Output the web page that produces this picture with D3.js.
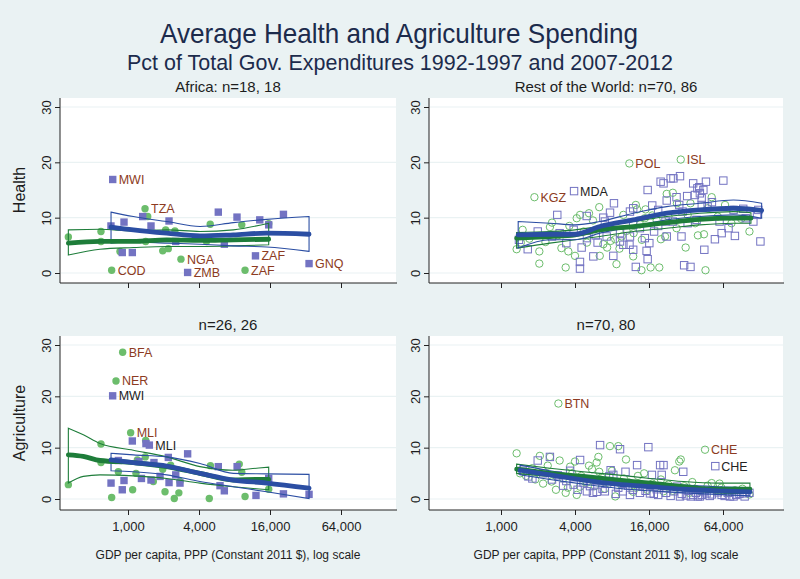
<!DOCTYPE html>
<html><head><meta charset="utf-8">
<script src="https://cdn.jsdelivr.net/npm/d3@7"></script>
<style>
body{margin:0;background:#eaf2f3;}
text{font-family:"Liberation Sans",Arial,sans-serif;}
</style>
</head><body>
<svg id="chart" width="800" height="579"></svg>
<script>
// ---------- DATA (GDP per capita in thousands of 2011 $, value in % of total gov. expenditure) ----------
const xTickValues = [1, 4, 16, 64];
const xTickLabels = ["1,000", "4,000", "16,000", "64,000"];
const yTickValues = [0, 10, 20, 30];
const panelTitles = ["Africa: n=18, 18", "Rest of the World: n=70, 86", "n=26, 26", "n=70, 80"];
const rowTitles = ["Health", "Agriculture"];

// Africa – Health
const afHealthEarly = [[0.312,6.5],[0.59,7.5],[0.59,5.7],[0.727,0.5,"COD"],[0.855,3.9],[1.394,11.6,"TZA"],[1.469,10.2],[1.412,5.7],[1.97,4.0],[2.087,7.8],[2.197,4.4],[2.5,7.6],[2.812,2.5,"NGA"],[4.63,5.7],[4.98,8.8],[9.22,8.7],[9.83,0.5,"ZAF"],[15.6,8.9]];
const afHealthLate = [[0.742,16.9,"MWI"],[0.717,8.5],[0.925,9.2],[0.894,3.7],[1.088,3.7],[1.332,10.2],[1.567,8.5],[2.228,9.4],[2.54,5.7],[3.204,0.1,"ZMB"],[5.83,11.0],[6.56,5.2],[8.4,10.1],[13.1,9.6],[12.05,3.1,"ZAF"],[15.6,8.7],[20.8,10.6],[34.3,1.7,"GNQ"]];
const afHealthEarlyFit = {x:[0.312,0.579,1.11,2.13,4.08,7.82,15.6], fit:[5.4,5.7,5.7,6.0,5.9,6.0,6.1], lo:[3.25,4.3,4.6,4.8,4.8,4.9,5.1], hi:[7.8,7.9,7.6,7.8,7.5,7.8,9.0]};
const afHealthLateFit = {x:[0.718,1.11,2.13,4.08,7.82,15.0,34.3], fit:[8.3,7.8,7.2,6.7,6.9,7.2,7.0], lo:[5.4,5.6,5.4,5.2,4.9,4.7,3.9], hi:[11.0,10.2,9.3,8.4,9.1,9.7,10.2]};

// Rest of world – Health
const rwHealthEarly = [[1.87,13.7,"KGZ"],[11.07,19.8,"POL"],[29,20.5,"ISL"],[1.34,4.3],[2.05,3.9],[2.05,1.7],[2.6,9.1],[3.36,1.0],[3.53,3.9],[4,3.1],[4.13,9.9],[6.3,11.9],[6.36,3.1],[8.5,6.1],[8.7,1.6],[9.6,6.6],[11.9,3.0],[12.5,12.3],[12.8,11.5],[13.9,0.5],[14.8,9.9],[16.5,1.0],[19.4,1.0],[21.6,6.6],[22.3,14.3],[26.8,8.1],[31.8,4.6],[34.8,12.6],[46.1,0.5],[44.8,7.0],[51.8,13.7],[66.5,12.3],[105,7.5],[1.5,7.8],[1.7,6.2],[2.3,5.6],[2.9,6.8],[3.1,4.5],[3.6,8.5],[4.4,10.5],[5.2,10.8],[5.6,9.5],[5.0,5.5],[6.8,5.2],[7.3,4.6],[7.8,5.8],[9.2,4.4],[10.5,7.6],[12,7.2],[13.5,8.8],[15,11.5],[17,10.4],[18.5,9.5],[20,6.1],[23,10.2],[25,14.5],[27,12.6],[33,10.5],[38,9.0],[40,6.8],[48,11.7],[58,10.2],[75,9.0],[90,9.8],[1.45,5.5],[2.5,8.3],[3.2,7.0],[4.7,7.5],[9.9,10.5],[14,6.0]];
const rwHealthLate = [[3.93,14.8,"MDA"],[1.65,4.3],[1.99,7.5],[2.87,10.5],[4.39,2.0],[4.39,0.8],[4.53,4.6],[4.98,10.3],[5.64,3.0],[6.11,5.5],[6.8,10.0],[7.71,10.9],[8.3,12.6],[7.24,6.6],[8.2,3.1],[9.29,5.7],[9.9,5.1],[11.2,11.1],[11.9,11.7],[11.1,5.1],[11.9,4.2],[12.5,1.1],[15.6,15.0],[15.3,4.0],[15.6,2.5],[16.1,5.4],[17.6,7.5],[19,8.5],[19.9,16.5],[21,16.2],[24,17.1],[25.3,17.1],[28.6,17.5],[21.8,9.3],[22.3,13.1],[26.8,13.7],[28.2,12.3],[29.4,6.6],[30.9,1.4],[32.7,13.9],[34.8,1.1],[36.6,16.2],[37.8,14.1],[39.6,15.3],[41,15.5],[41.5,14.4],[42.9,13.5],[44.3,15.0],[45.1,4.2],[46.5,16.5],[55,6.1],[62.4,7.2],[64.4,16.7],[71,8.1],[80,6.7],[93.5,11.6],[121,10.5],[129,5.7],[5.9,6.8],[11.9,8.7],[13.5,8.1],[19,11.4],[25,9.3],[30,11.1],[39,9.6],[43,12.3],[48,12.0],[60,9.3],[78,11.4],[98,9.9],[124,11.4],[113,9.3],[2.6,6.6],[3.4,5.4],[3.9,7.8],[5,6.3],[3,7.2],[7,9.3],[9.3,7.2],[14.8,6.3],[11.2,6.6],[22.3,6.6],[1.4,6.0],[17,12.2],[33,9.0],[52,12.8]];
const rwHealthEarlyFit = {x:[1.34,2.5,4.0,6.38,11.9,22.3,41.5,77.8,108], fit:[6.3,6.6,6.9,7.8,8.4,9.1,9.7,9.9,9.9], lo:[4.5,5.4,6.0,6.6,7.5,8.1,8.7,9.0,9.0], hi:[7.3,7.5,7.8,8.4,9.3,10.2,10.8,11.1,10.9]};
const rwHealthLateFit = {x:[1.38,2.5,4.0,6.38,11.9,22.3,41.5,77.8,132], fit:[6.9,7.0,7.0,8.4,9.6,10.8,11.4,11.7,11.3], lo:[4.5,6.0,6.0,7.2,8.4,9.6,10.2,10.5,9.9], hi:[9.3,9.0,8.7,9.3,10.8,12.0,12.6,13.2,12.6]};

// Africa – Agriculture
const afAgriEarly = [[0.901,28.6,"BFA"],[0.791,23.0,"NER"],[1.053,12.9,"MLI"],[0.312,2.8],[0.59,10.7],[0.59,7.1],[0.727,0.3],[0.828,5.3],[1.095,1.8],[1.169,5.0],[1.412,11.4],[1.4,8.2],[1.64,3.4],[1.97,5.8],[2.06,1.4],[2.47,0.1],[2.7,1.2],[2.76,3.4],[2.3,6.6],[4.89,0.1],[5.0,6.5],[8.78,6.8],[9.22,5.2],[9.83,0.5],[15.6,1.9],[1.2,7.6]];
const afAgriLate = [[0.741,20.1,"MWI"],[1.517,10.5,"MLI"],[1.088,11.3],[1.42,10.8],[0.718,3.1],[0.828,7.5],[0.894,1.8],[0.925,3.6],[1.24,7.3],[1.567,3.7],[1.66,7.1],[2.197,8.1],[2.228,3.2],[2.54,4.7],[2.76,3.1],[3.204,8.8],[5.83,6.3],[6.03,2.6],[6.56,1.6],[8.42,6.3],[12.17,0.7],[15.6,4.0],[20.8,1.0],[34.3,0.9],[1.87,4.4],[1.3,4.0]];
const afAgriEarlyFit = {x:[0.312,0.418,0.579,1.11,2.13,4.08,7.82,12.3,15.6], fit:[8.6,8.3,7.5,7.1,6.3,5.0,3.7,3.8,3.8], lo:[3.1,4.4,4.7,4.5,4.0,3.1,2.4,2.0,1.8], hi:[13.8,12.5,10.8,9.5,8.2,6.3,5.6,6.0,6.2]};
const afAgriLateFit = {x:[0.718,1.11,2.13,4.08,7.82,15.0,34.3], fit:[7.6,7.1,6.4,5.0,3.7,3.1,2.1], lo:[5.5,5.3,4.7,3.4,2.4,1.4,0.1], hi:[8.9,8.6,8.2,6.9,5.0,4.9,4.8]};

// Rest of world – Agriculture
const rwAgriEarly = [[2.93,18.6,"BTN"],[45.7,9.6,"CHE"],[1.34,8.9],[1.43,5.0],[2.07,8.4],[2.5,8.2],[2.58,3.4],[2.8,1.8],[3.36,1.2],[3.65,6.3],[4,7.3],[4.13,0.8],[4.39,2.4],[6,7.1],[6.2,8.2],[6.3,5.3],[7.7,10.3],[9,10.3],[8.5,0.5],[10.4,7.7],[11.9,1.4],[14.6,5.0],[26,5.6],[28.2,7.3],[29,7.7],[51.8,3.1],[105,0.9],[1.6,4.5],[1.8,6.0],[2.2,3.0],[2.4,6.5],[3.0,7.5],[3.2,4.0],[3.8,5.0],[4.5,4.5],[5.0,3.2],[5.5,5.8],[5.8,2.5],[6.6,4.2],[7.0,2.0],[7.5,3.5],[8.0,5.5],[9.5,2.8],[10,4.0],[11,3.2],[12.5,2.2],[13,4.5],[15.5,1.8],[17,3.0],[18,2.2],[20,3.8],[21,1.5],[23,2.8],[25,1.6],[31,2.5],[34,1.2],[38,2.0],[42,1.5],[48,2.6],[55,1.8],[62,2.2],[70,1.3],[80,1.7],[92,2.0],[1.9,3.8],[3.5,2.2],[5.2,6.5],[16,2.6],[36,3.3],[60,3.0]];
const rwAgriLate = [[55.4,6.4,"CHE"],[1.67,4.4],[1.99,7.5],[2.5,8.2],[3.65,5.5],[4.4,7.6],[6,1.4],[6.4,10.5],[7.8,5.6],[8.2,4.7],[9.3,9.7],[10.3,5.3],[11.2,0.8],[12.8,6.6],[15.8,10.1],[16.3,1.1],[16.9,4.7],[19.7,6.6],[21,6.6],[20.3,4.7],[22.3,2.1],[30.4,5.3],[28.6,0.5],[36.6,0.8],[41.5,0.5],[47,1.1],[62.4,0.8],[73,0.5],[82,0.8],[93,1.1],[96,0.5],[1.5,5.5],[1.8,4.0],[2.2,5.0],[2.6,3.8],[2.9,4.6],[3.2,2.6],[3.4,3.5],[3.9,2.8],[4.2,1.8],[4.7,3.2],[5.0,1.5],[5.3,2.5],[5.6,1.2],[5.9,3.6],[6.7,2.0],[7.0,1.5],[7.3,3.0],[8.6,1.0],[9.0,2.2],[9.8,1.5],[10.8,2.6],[11.8,1.8],[13.5,1.2],[14.2,2.4],[15,1.6],[17.5,1.0],[18.5,1.9],[19,0.8],[22,1.2],[24,0.6],[25.5,1.5],[27,2.4],[29.5,1.0],[32,0.7],[33.5,1.6],[35,0.5],[38.5,1.2],[40,0.5],[43,0.8],[45,1.5],[50,0.6],[52,0.9],[58,1.3],[66,0.6],[70,1.2],[78,0.5],[87,1.0],[105,1.2],[7.6,4.4]];
const rwAgriEarlyFit = {x:[1.34,2.5,4.67,8.74,16.3,30.5,57,106], fit:[5.8,5.0,4.4,3.7,3.1,2.4,1.9,1.9], lo:[5.0,4.4,3.6,2.9,2.3,1.8,1.2,1.1], hi:[6.8,6.0,5.3,4.7,4.0,3.4,3.1,3.1]};
const rwAgriLateFit = {x:[1.43,2.5,4.67,8.74,16.3,30.5,57,106], fit:[5.6,4.7,3.7,2.9,2.4,1.9,1.6,1.4], lo:[4.7,3.8,2.9,2.1,1.6,1.2,0.9,0.6], hi:[6.6,5.5,4.5,3.8,3.2,2.7,2.4,2.2]};

// ---------- STYLE / LAYOUT ----------
const C = {
  bg:"#eaf2f3", plot:"#ffffff", grid:"#eaf2f3", text:"#1d1d1d", title:"#1c2b4c",
  greenMk:"#6cbd6c", blueMk:"#7373c2", greenLn:"#1e7d3a", blueLn:"#2b4ea3",
  lblEarly:"#8c3b22", lblLate:"#222222"
};
const panels = [
  {title:panelTitles[0], early:afHealthEarly, late:afHealthLate, eFit:afHealthEarlyFit, lFit:afHealthLateFit, filled:true, left:true, top:true, lateLbl:C.lblEarly},
  {title:panelTitles[1], early:rwHealthEarly, late:rwHealthLate, eFit:rwHealthEarlyFit, lFit:rwHealthLateFit, filled:false, left:false, top:true, lateLbl:C.lblLate},
  {title:panelTitles[2], early:afAgriEarly, late:afAgriLate, eFit:afAgriEarlyFit, lFit:afAgriLateFit, filled:true, left:true, top:false, lateLbl:C.lblLate},
  {title:panelTitles[3], early:rwAgriEarly, late:rwAgriLate, eFit:rwAgriEarlyFit, lFit:rwAgriLateFit, filled:false, left:false, top:false, lateLbl:C.lblLate}
];

const svg = d3.select("#chart");
svg.append("rect").attr("width",800).attr("height",579).attr("fill",C.bg);

svg.append("text").attr("x",399).attr("y",43).attr("text-anchor","middle")
  .attr("font-size",28).attr("fill",C.title)
  .attr("textLength",478).attr("lengthAdjust","spacingAndGlyphs")
  .text("Average Health and Agriculture Spending");
svg.append("text").attr("x",400).attr("y",70).attr("text-anchor","middle")
  .attr("font-size",21.5).attr("fill",C.title)
  .attr("textLength",546).attr("lengthAdjust","spacingAndGlyphs")
  .text("Pct of Total Gov. Expenditures 1992-1997 and 2007-2012");

svg.append("text").attr("transform","translate(25,190) rotate(-90)").attr("text-anchor","middle")
  .attr("font-size",16).attr("fill",C.text).text(rowTitles[0]);
svg.append("text").attr("transform","translate(25,423) rotate(-90)").attr("text-anchor","middle")
  .attr("font-size",16).attr("fill",C.text).text(rowTitles[1]);

panels.forEach(p => {
  const px0 = p.left ? 60 : 429, px1 = p.left ? 396 : 783;
  const py0 = p.top ? 98 : 336, py1 = p.top ? 283 : 510;
  const x = d3.scaleLog().domain([1,64]).range(p.left ? [128,341] : [501,723]);
  const y = d3.scaleLinear().domain([0,30]).range(p.top ? [273,107] : [499,345]);
  const g = svg.append("g");

  g.append("rect").attr("x",px0).attr("y",py0).attr("width",px1-px0).attr("height",py1-py0).attr("fill",C.plot);
  g.selectAll(".grid").data(yTickValues).join("line")
    .attr("x1",px0+1).attr("x2",px1).attr("y1",d=>y(d)).attr("y2",d=>y(d))
    .attr("stroke",C.grid).attr("stroke-width",1.2);

  // axes
  const ya = g.append("g").attr("transform",`translate(${px0},0)`)
    .call(d3.axisLeft(y).tickValues(yTickValues).tickSize(5).tickSizeOuter(0));
  ya.select(".domain").attr("d",`M0,${py0}V${py1}`).attr("stroke","#222");
  ya.selectAll(".tick line").attr("stroke","#222");
  ya.selectAll(".tick text").attr("transform","rotate(-90)").attr("x",0).attr("y",-9).attr("dy",0)
    .attr("text-anchor","middle").attr("font-size",13).attr("fill",C.text)
    .style("font-family",'"Liberation Sans",Arial,sans-serif');

  const xa = g.append("g").attr("transform",`translate(0,${py1})`)
    .call(d3.axisBottom(x).tickValues(xTickValues).tickFormat((d,i)=> p.top ? "" : xTickLabels[i]).tickSize(5).tickSizeOuter(0));
  xa.select(".domain").attr("d",`M${px0},0H${px1+1}`).attr("stroke","#222");
  xa.selectAll(".tick line").attr("stroke","#222");
  xa.selectAll(".tick text").attr("y",12).attr("font-size",13).attr("fill",C.text)
    .style("font-family",'"Liberation Sans",Arial,sans-serif');

  // panel title
  g.append("text").attr("x",(px0+px1)/2).attr("y",py0-6).attr("text-anchor","middle")
    .attr("font-size",15).attr("fill",C.text).text(p.title);
  if (!p.top) {
    g.append("text").attr("x",(px0+px1)/2).attr("y",559).attr("text-anchor","middle")
      .attr("font-size",12).attr("fill",C.text).text("GDP per capita, PPP (Constant 2011 $), log scale");
  }

  // markers
  const cl = g.append("g");
  cl.selectAll("circle").data(p.early).join("circle")
    .attr("cx",d=>x(d[0])).attr("cy",d=>y(d[1])).attr("r",3.7)
    .attr("fill",p.filled?C.greenMk:"none").attr("stroke",C.greenMk).attr("stroke-width",p.filled?0:1);
  cl.selectAll("rect").data(p.late).join("rect")
    .attr("x",d=>x(d[0])-3.7).attr("y",d=>y(d[1])-3.7).attr("width",7.4).attr("height",7.4)
    .attr("fill",p.filled?C.blueMk:"none").attr("stroke",C.blueMk).attr("stroke-width",p.filled?0:1);

  // CI bands and fits
  const lineGen = d3.line().curve(d3.curveMonotoneX);
  function band(f, col){
    const up = f.x.map((v,i)=>[x(v),y(f.hi[i])]);
    const dn = f.x.map((v,i)=>[x(v),y(f.lo[i])]).reverse();
    g.append("path").attr("d", lineGen(up) + "L" + lineGen(dn).slice(1) + "Z")
      .attr("fill","none").attr("stroke",col).attr("stroke-width",1.1);
  }
  function fit(f, col){
    g.append("path").attr("d", lineGen(f.x.map((v,i)=>[x(v),y(f.fit[i])])))
      .attr("fill","none").attr("stroke",col).attr("stroke-width",4.8).attr("stroke-linecap","round");
  }
  band(p.eFit, C.greenLn);
  band(p.lFit, C.blueLn);
  fit(p.eFit, C.greenLn);
  fit(p.lFit, C.blueLn);

  // labels
  const lbl = g.append("g").attr("font-size",12.5);
  lbl.selectAll(".le").data(p.early.filter(d=>d[2])).join("text")
    .attr("x",d=>x(d[0])+6).attr("y",d=>y(d[1])+4.5).attr("fill",C.lblEarly).text(d=>d[2]);
  lbl.selectAll(".ll").data(p.late.filter(d=>d[2])).join("text")
    .attr("x",d=>x(d[0])+6).attr("y",d=>y(d[1])+4.5).attr("fill",p.lateLbl).text(d=>d[2]);
});
</script>
</body></html>
